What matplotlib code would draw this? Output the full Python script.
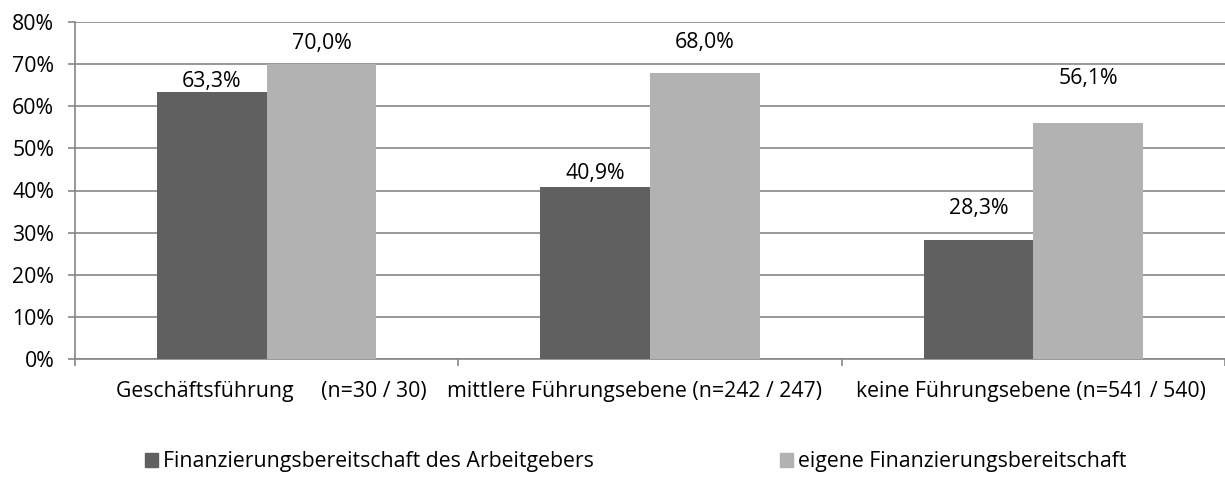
import numpy as np
import matplotlib.pyplot as plt
from matplotlib.patches import Patch

# data
categories = ["Geschäftsführung     (n=30 / 30)",
              "mittlere Führungsebene (n=242 / 247)",
              "keine Führungsebene (n=541 / 540)"]
arbeitgeber = [63.3, 40.9, 28.3]
eigene = [70.0, 68.0, 56.1]
series_names = ["Finanzierungsbereitschaft des Arbeitgebers",
                "eigene Finanzierungsbereitschaft"]
yticks = [0, 10, 20, 30, 40, 50, 60, 70, 80]

# label offsets (points above bar top), labels were moved by hand in the original
off_dark = [0, 2, 15]
off_light = [7, 14, 24]
# horizontal nudges of the category labels (points)
xlabel_shift = [3, -11, -2]

plt.rcParams['font.family'] = ['Open Sans', 'DejaVu Sans']
grid_col = '#868686'
dark = '#606060'
light = '#b2b2b2'
fs = 15.3

fig = plt.figure(figsize=(12.25, 4.91), dpi=100)
ax = fig.add_axes([75 / 1225, 1 - 359 / 491, 1 - 75 / 1225, (359 - 22) / 491])

x = np.arange(len(categories))
w = 0.286
b1 = ax.bar(x - w / 2, arbeitgeber, w, color=dark, zorder=3)
b2 = ax.bar(x + w / 2, eigene, w, color=light, zorder=3)

for bars, vals, offs in [(b1, arbeitgeber, off_dark), (b2, eigene, off_light)]:
    for r, v, o in zip(bars, vals, offs):
        ax.annotate(f"{v:.1f}%".replace('.', ','),
                    (r.get_x() + r.get_width() / 2, v),
                    xytext=(0, o), textcoords='offset points',
                    ha='center', va='bottom', fontsize=fs)

ax.set_xlim(-0.5, len(categories) - 0.5)
ax.set_ylim(0, 80)
ax.set_yticks(yticks)
ax.set_yticklabels([f"{t}%" for t in yticks], fontsize=fs)
ax.yaxis.grid(True, color=grid_col, linewidth=1.2, zorder=0)
ax.set_axisbelow(True)

# category labels drawn as text so they can be nudged like in the original
ax.set_xticks(np.arange(len(categories) + 1) - 0.5)
ax.set_xticklabels([])
ax.tick_params(axis='x', length=5, color=grid_col, width=1.2)
for xi, lab, dx in zip(x, categories, xlabel_shift):
    ax.annotate(lab, (xi, 0), xycoords=ax.get_xaxis_transform(),
                xytext=(dx, -16), textcoords='offset points',
                ha='center', va='top', fontsize=fs)
ax.tick_params(axis='y', length=5, color=grid_col, width=1.2, pad=10)

for s in ['top', 'right']:
    ax.spines[s].set_visible(False)
for s in ['left', 'bottom']:
    ax.spines[s].set_color(grid_col)
    ax.spines[s].set_linewidth(1.2)

leg_kw = dict(frameon=False, fontsize=fs, handlelength=0.6, handleheight=0.6,
              handletextpad=0.25, loc='center left', borderaxespad=0, borderpad=0)
fig.legend(handles=[Patch(color=dark, label=series_names[0])],
           bbox_to_anchor=(145 / 1225, 1 - 462 / 491), **leg_kw)
fig.legend(handles=[Patch(color=light, label=series_names[1])],
           bbox_to_anchor=(780 / 1225, 1 - 462 / 491), **leg_kw)

fig.savefig('out.png', dpi=100)
